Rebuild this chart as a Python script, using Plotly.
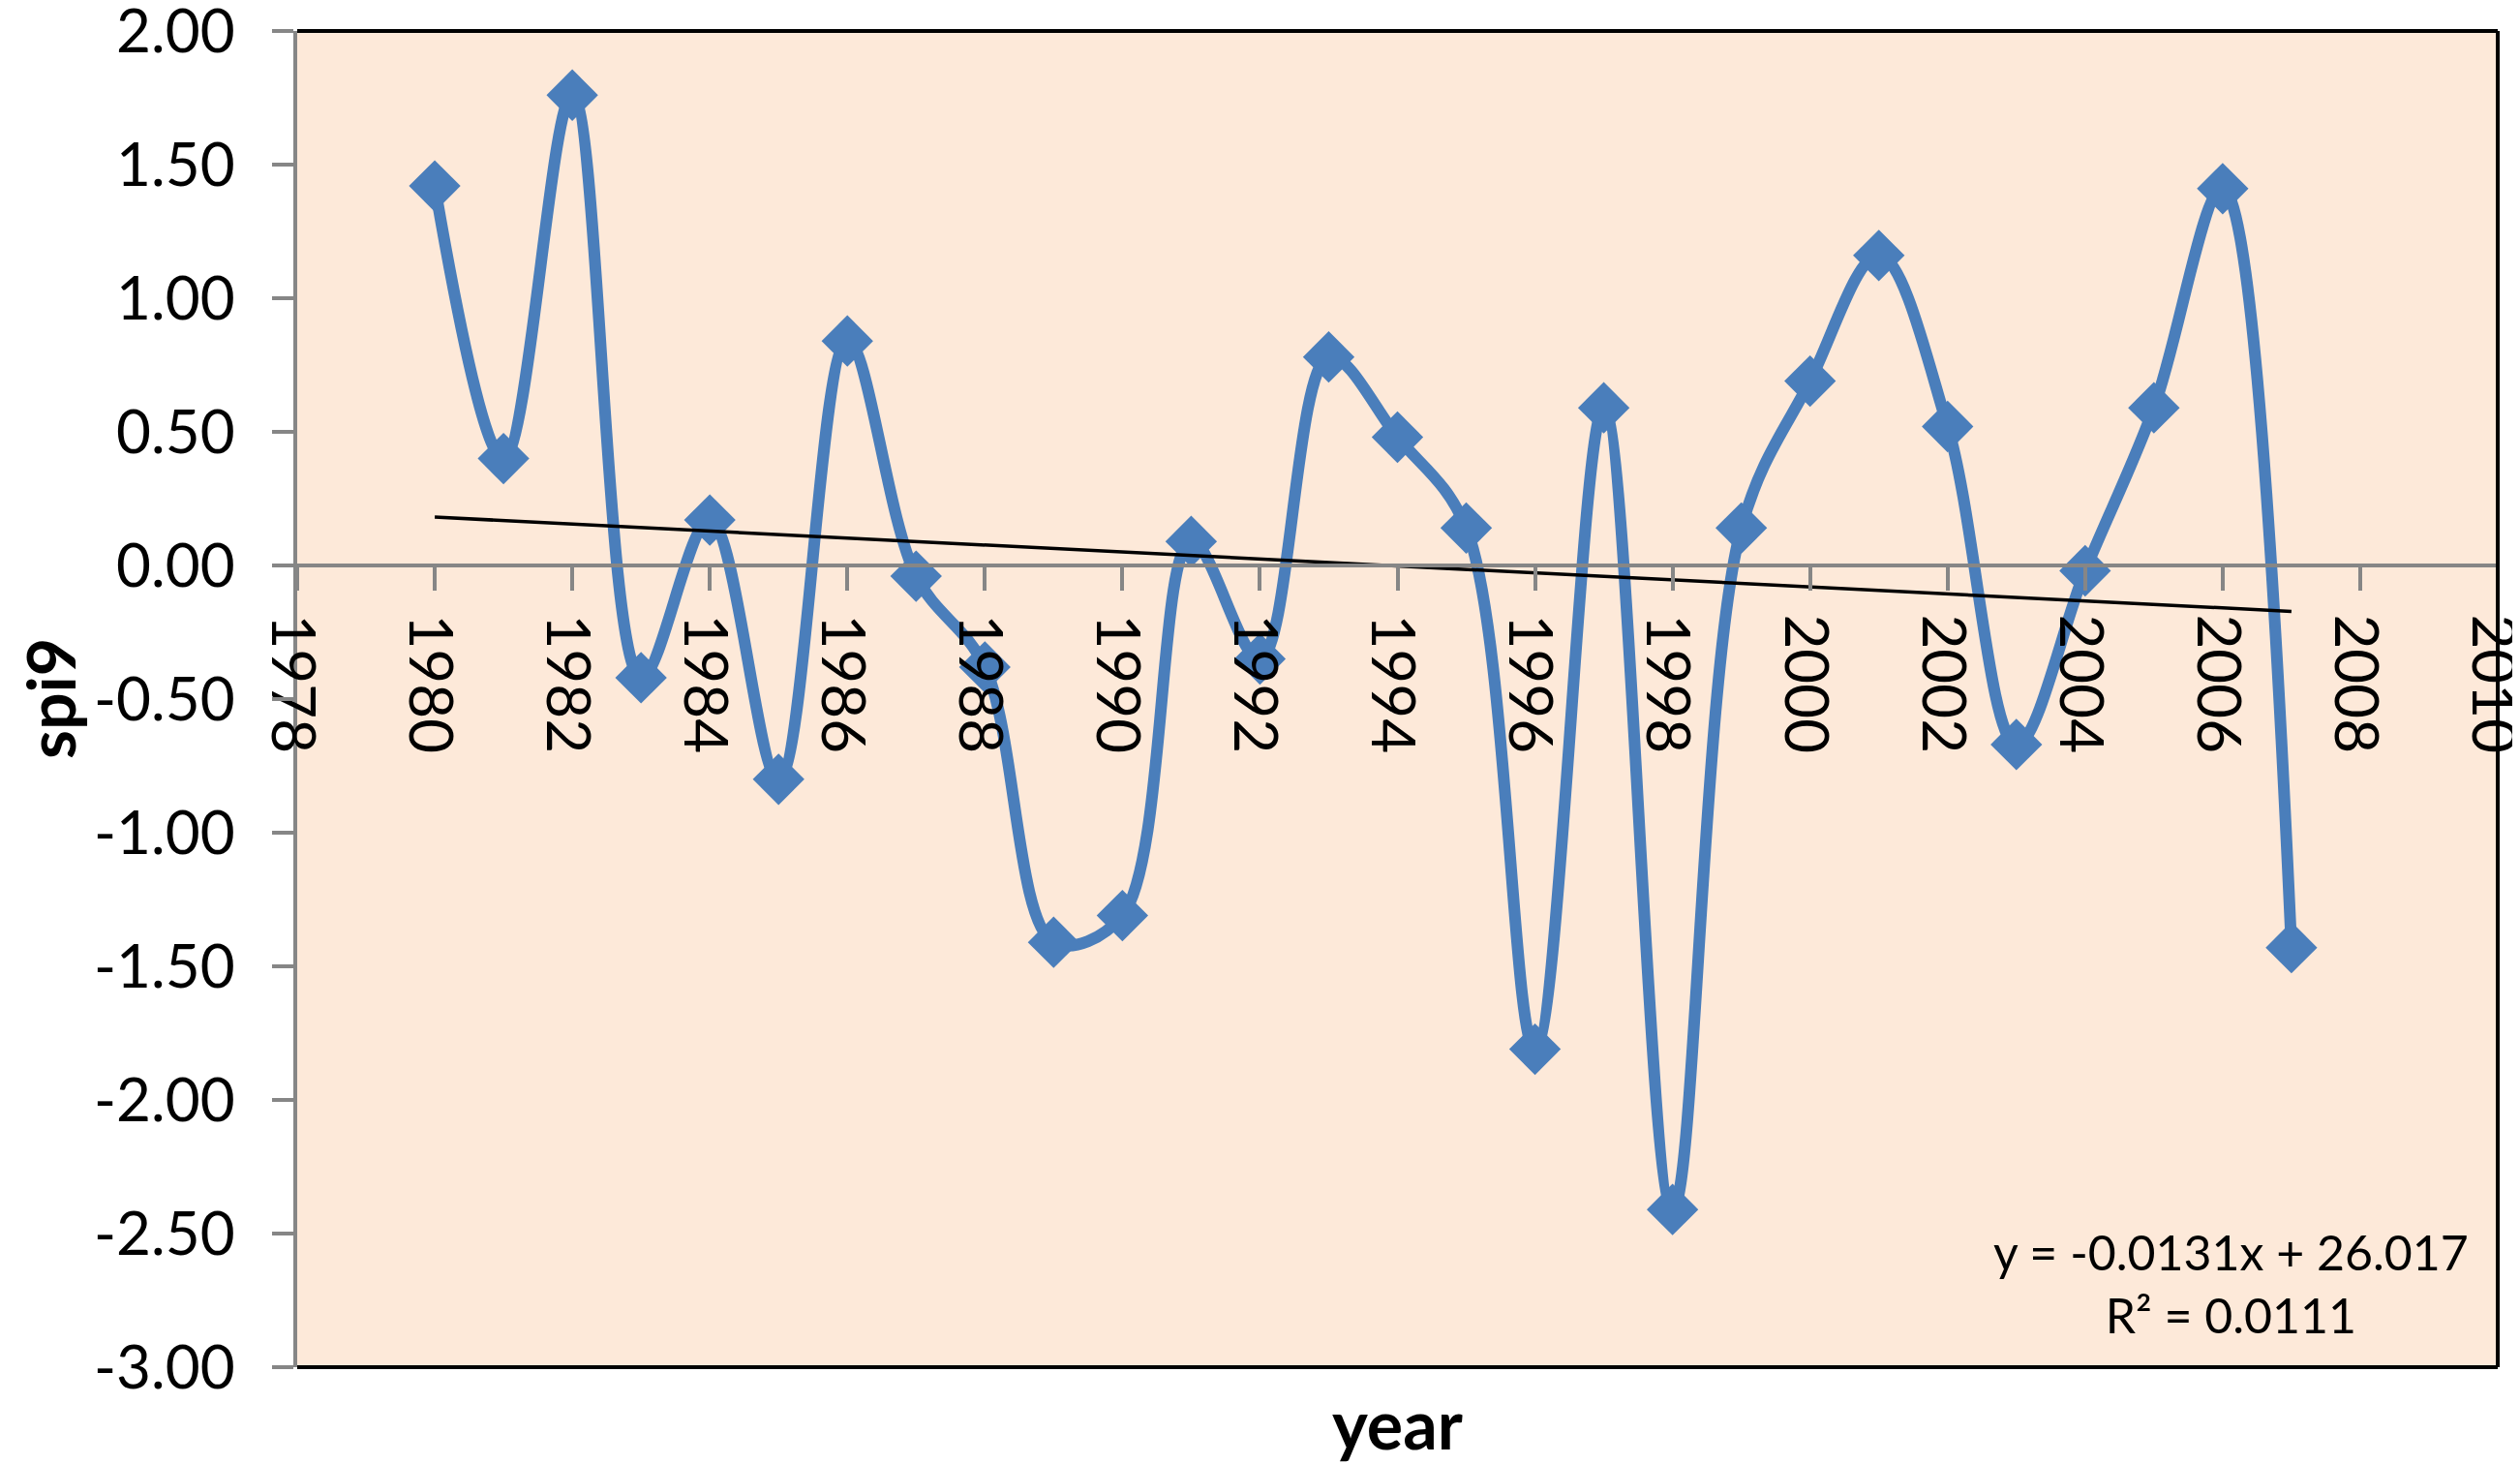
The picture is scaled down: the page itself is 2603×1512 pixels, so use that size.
import numpy as np
import plotly.graph_objects as go

# === DATEN ===
years = list(range(1980, 2008))
spi9 = [1.42, 0.40, 1.76, -0.42, 0.17, -0.80, 0.84, -0.04, -0.38, -1.41,
        -1.31, 0.09, -0.35, 0.78, 0.48, 0.14, -1.81, 0.59, -2.41, 0.14,
        0.69, 1.16, 0.52, -0.67, -0.02, 0.59, 1.41, -1.43]

y_ticks = [2.0, 1.5, 1.0, 0.5, 0.0, -0.5, -1.0, -1.5, -2.0, -2.5, -3.0]
y_ticktext = ["2.00", "1.50", "1.00", "0.50", "0.00", "-0.50", "-1.00",
              "-1.50", "-2.00", "-2.50", "-3.00"]
x_ticks = list(range(1978, 2011, 2))

eq_text = "y = -0.0131x + 26.017<br>R² = 0.0111"

# === LINEARER TREND (wie Excel) ===
coef = np.polyfit(years, spi9, 1)
trend_x = [years[0], years[-1]]
trend_y = list(np.polyval(coef, trend_x))

FONT = "Lato, Noto Sans, sans-serif"
BLUE = "#4A7EBB"
GREY = "#868686"

fig = go.Figure()

fig.add_trace(go.Scatter(
    x=years, y=spi9,
    mode="lines+markers",
    line=dict(color=BLUE, width=12, shape="spline", smoothing=1.0),
    marker=dict(symbol="diamond", size=41, color=BLUE),
    showlegend=False,
))

fig.add_trace(go.Scatter(
    x=trend_x, y=trend_y,
    mode="lines",
    line=dict(color="black", width=3.5),
    showlegend=False,
))

# body hat 8px Rand -> Figur etwas kleiner als das Fenster
fig.update_layout(
    width=2595, height=1504,
    paper_bgcolor="white",
    plot_bgcolor="#FDE9D9",
    margin=dict(l=299, r=23, t=24, b=100),
    font=dict(family=FONT, size=62, color="black"),
    xaxis=dict(
        range=[1978, 2010],
        tickvals=x_ticks,
        tickangle=90,
        ticks="outside", ticklen=24, tickwidth=4, tickcolor=GREY,
        showline=True, linecolor=GREY, linewidth=4,
        showgrid=False, zeroline=False,
        anchor="free", position=0.6,
        ticklabelstandoff=12,
        ticklabelshift=-6,
        ticklabeloverflow="allow",
        automargin=False,
    ),
    yaxis=dict(
        range=[-3, 2],
        tickvals=y_ticks, ticktext=y_ticktext,
        ticks="outside", ticklen=22, tickwidth=4, tickcolor=GREY,
        showline=True, linecolor=GREY, linewidth=4,
        showgrid=False, zeroline=False,
        ticklabelstandoff=26,
        ticklabeloverflow="allow",
        automargin=False,
    ),
    shapes=[
        dict(type="line", xref="paper", yref="paper", x0=0, x1=1, y0=1, y1=1,
             line=dict(color="black", width=4)),
        dict(type="line", xref="paper", yref="paper", x0=1, x1=1, y0=0, y1=1,
             line=dict(color="black", width=4)),
        dict(type="line", xref="paper", yref="paper", x0=0, x1=1, y0=0, y1=0,
             line=dict(color="black", width=4)),
    ],
    annotations=[
        dict(text="<b>year</b>", xref="paper", yref="paper", x=0.5, y=0,
             xanchor="center", yanchor="middle", yshift=-58,
             showarrow=False, font=dict(size=70)),
        dict(text="<b>spi9</b>", xref="paper", yref="paper", x=0, y=0.5,
             xanchor="center", yanchor="middle", xshift=-256, textangle=-90,
             showarrow=False, font=dict(size=68)),
        dict(text=eq_text, xref="paper", yref="paper", x=0.879, y=0.063,
             xanchor="center", yanchor="middle",
             showarrow=False, align="center", font=dict(size=50)),
    ],
)

fig.write_html("out.html")
